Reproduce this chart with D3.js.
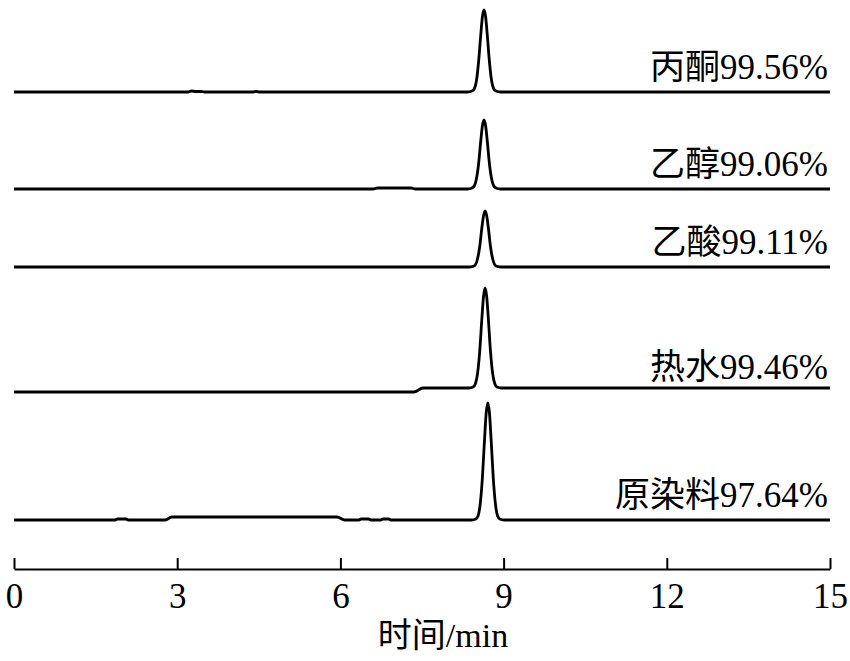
<!DOCTYPE html>
<html>
<head>
<meta charset="utf-8">
<script src="https://cdn.jsdelivr.net/npm/d3@7"></script>
<style>
  body { margin: 0; background: #fff; }
  text { font-family: "Liberation Serif", "Times New Roman", serif; fill: #000; }
  .cjk { font-family: "Noto Sans CJK SC", sans-serif; }
</style>
</head>
<body>
<svg id="chart" width="850" height="661"></svg>
<script>
// Sample names and purity (%)
var sampleNames = ["丙酮", "乙醇", "乙酸", "热水", "原染料"];
var purity = ["99.56", "99.06", "99.11", "99.46", "97.64"];

// Vertical stacking offset of each trace (signal units)
var traceOffsets = [477, 380, 302, 177, 49];

// Tick values of the time axis (min)
var timeTicks = [0, 3, 6, 9, 12, 15];

// Chromatograms: [time (min), signal]
var acetoneTrace = [
    [0, 0], [3.2, 0], [3.26, 1], [3.34, 0.5], [3.45, 0.5], [3.5, 0], [4.4, 0], [4.45, 0.6], [4.5, 0],
    [8.34, 0], [8.42, 1], [8.46, 3], [8.50, 11], [8.54, 30], [8.58, 57], [8.61, 75], [8.64, 82],
    [8.67, 75], [8.70, 57], [8.74, 30], [8.78, 11], [8.82, 3], [8.86, 1], [8.94, 0], [15, 0]
];
var ethanolTrace = [
    [0, 0], [6.6, 0], [6.68, 1], [7.3, 1], [7.38, 0],
    [8.34, 0], [8.42, 1], [8.46, 3], [8.50, 10], [8.54, 25], [8.58, 48], [8.61, 63], [8.64, 69],
    [8.67, 63], [8.70, 48], [8.74, 25], [8.78, 10], [8.82, 3], [8.86, 1], [8.94, 0], [15, 0]
];
var aceticTrace = [
    [0, 0],
    [8.36, 0], [8.44, 0.6], [8.48, 2], [8.52, 8], [8.56, 20], [8.60, 39], [8.63, 51], [8.66, 56],
    [8.69, 51], [8.72, 39], [8.76, 20], [8.80, 8], [8.84, 2], [8.88, 0.6], [8.96, 0], [15, 0]
];
var hotWaterTrace = [
    [0, 0], [7.35, 0], [7.52, 4],
    [8.36, 4], [8.44, 5], [8.48, 8], [8.52, 18], [8.56, 40], [8.60, 73], [8.63, 95], [8.66, 104],
    [8.69, 95], [8.72, 73], [8.76, 40], [8.80, 18], [8.84, 8], [8.88, 5], [8.96, 4], [15, 4]
];
var rawDyeTrace = [
    [0, 0], [1.86, 0], [1.9, 1], [2.06, 1], [2.1, 0], [2.78, 0], [2.9, 3], [5.94, 3], [6.08, 0],
    [6.34, 0], [6.38, 1], [6.52, 1], [6.56, 0], [6.74, 0], [6.78, 1], [6.89, 1], [6.93, 0],
    [8.41, 0], [8.49, 1], [8.53, 4], [8.57, 16], [8.61, 42], [8.65, 81], [8.68, 107], [8.71, 117],
    [8.74, 107], [8.77, 81], [8.81, 42], [8.85, 16], [8.89, 4], [8.93, 1], [9.01, 0], [15, 0]
];

var traces = [acetoneTrace, ethanolTrace, aceticTrace, hotWaterTrace, rawDyeTrace];

var svg = d3.select("#chart");

var x = d3.scaleLinear().domain([0, 15]).range([14, 830]);
var y = d3.scaleLinear().domain([0, 560]).range([569, 9]);

// Traces
var line = d3.line()
    .x(function (d) { return x(d[0]); })
    .y(function (d) { return d[1]; })
    .curve(d3.curveMonotoneX);

traces.forEach(function (trace, i) {
    var pts = trace.map(function (d) { return [d[0], y(d[1] + traceOffsets[i])]; });
    svg.append("path")
        .datum(pts)
        .attr("d", line)
        .attr("fill", "none")
        .attr("stroke", "#000")
        .attr("stroke-width", 2.8)
        .attr("stroke-linejoin", "round");

    var label = svg.append("text")
        .attr("x", 828)
        .attr("y", y(traceOffsets[i]) - 13)
        .attr("text-anchor", "end")
        .attr("font-size", 35);
    label.append("tspan").attr("class", "cjk").text(sampleNames[i]);
    label.append("tspan").text(purity[i] + "%");
});

// Time axis, ticks pointing up
var axis = svg.append("g")
    .attr("transform", "translate(0," + y(0) + ")")
    .call(d3.axisBottom(x).tickValues(timeTicks).tickSizeInner(-11).tickSizeOuter(0).tickPadding(14));
axis.select(".domain").attr("stroke-width", 2);
axis.selectAll(".tick line").attr("stroke-width", 2);
axis.selectAll(".tick text").attr("font-size", 35);

var xLabel = svg.append("text")
    .attr("x", 443)
    .attr("y", 647)
    .attr("text-anchor", "middle")
    .attr("font-size", 34);
xLabel.append("tspan").attr("class", "cjk").text("时间");
xLabel.append("tspan").text("/min");
</script>
</body>
</html>
